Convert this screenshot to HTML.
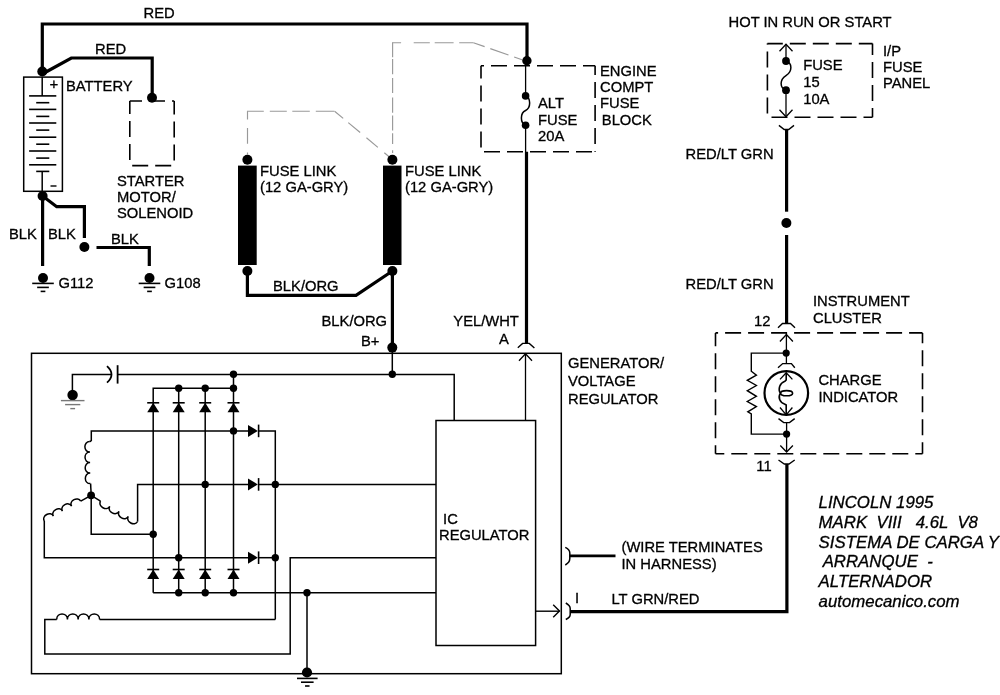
<!DOCTYPE html>
<html><head><meta charset="utf-8"><style>
html,body{margin:0;padding:0;background:#fff;}
svg{display:block;will-change:transform;}
text{font-family:"Liberation Sans",sans-serif;fill:#000;stroke:#000;stroke-width:0.3px;white-space:pre;}
</style></head><body>
<svg width="1000" height="695" viewBox="0 0 1000 695">
<rect width="1000" height="695" fill="#fff"/>
<path d="M42.3,71 V24 H527 V61" fill="none" stroke="#000" stroke-width="3.2" />
<path d="M42.3,74 L71.3,58 H152.2 V97.7" fill="none" stroke="#000" stroke-width="3.2" />
<circle cx="42.3" cy="71.5" r="5" fill="#000"/>
<circle cx="152" cy="97.7" r="5" fill="#000"/>
<line x1="129.8" y1="101" x2="174.2" y2="101" stroke="#000" stroke-width="1.6" stroke-dasharray="16,7" stroke-dashoffset="3.80"/>
<line x1="174.2" y1="101" x2="174.2" y2="165.6" stroke="#000" stroke-width="1.6" stroke-dasharray="16,7" stroke-dashoffset="2.50"/>
<line x1="129.8" y1="165.6" x2="174.2" y2="165.6" stroke="#000" stroke-width="1.6" stroke-dasharray="16,7" stroke-dashoffset="20.60"/>
<line x1="129.8" y1="101" x2="129.8" y2="165.6" stroke="#000" stroke-width="1.6" stroke-dasharray="16,7" stroke-dashoffset="3.10"/>
<rect x="23.7" y="77.1" width="38.7" height="114.20000000000002" fill="none" stroke="#000" stroke-width="1.5" />
<line x1="42.2" y1="77" x2="42.2" y2="95.9" stroke="#000" stroke-width="1.5" />
<line x1="29.1" y1="95.9" x2="56.3" y2="95.9" stroke="#000" stroke-width="1.6" />
<line x1="29.1" y1="109.4" x2="56.3" y2="109.4" stroke="#000" stroke-width="1.6" />
<line x1="29.1" y1="123" x2="56.3" y2="123" stroke="#000" stroke-width="1.6" />
<line x1="29.1" y1="137.2" x2="56.3" y2="137.2" stroke="#000" stroke-width="1.6" />
<line x1="29.1" y1="151" x2="56.3" y2="151" stroke="#000" stroke-width="1.6" />
<line x1="29.1" y1="164.8" x2="56.3" y2="164.8" stroke="#000" stroke-width="1.6" />
<line x1="36.2" y1="102.7" x2="49.3" y2="102.7" stroke="#000" stroke-width="1.6" />
<line x1="36.2" y1="116.4" x2="49.3" y2="116.4" stroke="#000" stroke-width="1.6" />
<line x1="36.2" y1="130.1" x2="49.3" y2="130.1" stroke="#000" stroke-width="1.6" />
<line x1="36.2" y1="144.2" x2="49.3" y2="144.2" stroke="#000" stroke-width="1.6" />
<line x1="36.2" y1="158.1" x2="49.3" y2="158.1" stroke="#000" stroke-width="1.6" />
<line x1="36.2" y1="171.4" x2="49.3" y2="171.4" stroke="#000" stroke-width="1.6" />
<line x1="42.2" y1="171.4" x2="42.2" y2="191.3" stroke="#000" stroke-width="1.5" />
<text x="49.4" y="89.3" font-size="15">+</text>
<line x1="50.5" y1="186" x2="56.5" y2="186" stroke="#000" stroke-width="1.4" />
<text x="66" y="90.7" font-size="14.75">BATTERY</text>
<circle cx="42.6" cy="196" r="5" fill="#000"/>
<path d="M42.6,196 V266" fill="none" stroke="#000" stroke-width="3.2" />
<path d="M42.6,196 L56.7,206.7 H84.4 V238" fill="none" stroke="#000" stroke-width="3.2" />
<circle cx="84.4" cy="247" r="5" fill="#000"/>
<path d="M96.5,247.5 H149.3 V266" fill="none" stroke="#000" stroke-width="3.2" />
<circle cx="43" cy="278" r="5" fill="#000"/>
<line x1="32.2" y1="283.4" x2="53.8" y2="283.4" stroke="#000" stroke-width="1.6" />
<line x1="37.15" y1="287.4" x2="48.85" y2="287.4" stroke="#000" stroke-width="1.6" />
<line x1="40.65" y1="291.4" x2="45.35" y2="291.4" stroke="#000" stroke-width="1.6" />
<circle cx="149.5" cy="278" r="5" fill="#000"/>
<line x1="138.7" y1="283.4" x2="160.3" y2="283.4" stroke="#000" stroke-width="1.6" />
<line x1="143.65" y1="287.4" x2="155.35" y2="287.4" stroke="#000" stroke-width="1.6" />
<line x1="147.15" y1="291.4" x2="151.85" y2="291.4" stroke="#000" stroke-width="1.6" />
<text x="9" y="238.7" font-size="14.75">BLK</text>
<text x="48" y="238.7" font-size="14.75">BLK</text>
<text x="111" y="244" font-size="14.75">BLK</text>
<text x="58.5" y="288" font-size="14.75">G112</text>
<text x="164.5" y="288" font-size="14.75">G108</text>
<text x="117" y="185.5" font-size="14.75">STARTER</text>
<text x="117" y="201.5" font-size="14.75">MOTOR/</text>
<text x="117" y="217.8" font-size="14.75">SOLENOID</text>
<text x="143.6" y="18" font-size="14.75">RED</text>
<text x="95" y="54" font-size="14.75">RED</text>
<line x1="247.5" y1="111.2" x2="247.5" y2="154.6" stroke="#999" stroke-width="1.15" stroke-dasharray="8.4,8.3,15.8,8.7,3,20"/>
<line x1="247" y1="111.2" x2="334.6" y2="111.2" stroke="#999" stroke-width="1.15" stroke-dasharray="16.8,6,17,5.5,17.5,6,18.6,10"/>
<line x1="334.6" y1="111.2" x2="390" y2="157.5" stroke="#999" stroke-width="1.15" stroke-dasharray="11.2,6.6,15.5,8.2,14.9,8.4,9,10"/>
<line x1="392.6" y1="42.7" x2="392.6" y2="153" stroke="#999" stroke-width="1.15" stroke-dasharray="14.6,1.8,15.2,3.6,15.1,4.5,15.2,2.7,15.1,2.7,10.7,6.3,3,20"/>
<line x1="392" y1="42.7" x2="473.4" y2="42.7" stroke="#999" stroke-width="1.15" stroke-dasharray="9.1,12.6,16.1,4.9,18.9,5.6,14.5,10"/>
<line x1="473.4" y1="42.7" x2="522" y2="59.8" stroke="#999" stroke-width="1.15" stroke-dasharray="11.9,6,19.3,6,9,20"/>
<rect x="238" y="165.6" width="18.69999999999999" height="99.4" fill="#000"/>
<rect x="383" y="165.6" width="18.5" height="99.4" fill="#000"/>
<circle cx="247.4" cy="159.8" r="5" fill="#000"/>
<circle cx="392.4" cy="159.8" r="5" fill="#000"/>
<circle cx="247.4" cy="271" r="5" fill="#000"/>
<circle cx="392.4" cy="271" r="5" fill="#000"/>
<path d="M247.4,271 V295.3 H356 L392.4,271" fill="none" stroke="#000" stroke-width="3.2" />
<path d="M392.4,271 V347.5" fill="none" stroke="#000" stroke-width="3.2" />
<text x="260" y="176.3" font-size="14.75">FUSE LINK</text>
<text x="260" y="192" font-size="14.75">(12 GA-GRY)</text>
<text x="405" y="176.3" font-size="14.75">FUSE LINK</text>
<text x="405" y="192" font-size="14.75">(12 GA-GRY)</text>
<text x="273" y="290.7" font-size="14.75">BLK/ORG</text>
<line x1="481" y1="65.75" x2="595.1" y2="65.75" stroke="#000" stroke-width="1.6" stroke-dasharray="16,7" stroke-dashoffset="13.00"/>
<line x1="595.1" y1="65.75" x2="595.1" y2="151.8" stroke="#000" stroke-width="1.6" stroke-dasharray="16,7" stroke-dashoffset="6.80"/>
<line x1="481" y1="151.8" x2="595.1" y2="151.8" stroke="#000" stroke-width="1.6" stroke-dasharray="16,7" stroke-dashoffset="20.00"/>
<line x1="481" y1="65.75" x2="481" y2="151.8" stroke="#000" stroke-width="1.6" stroke-dasharray="16,7" stroke-dashoffset="3.30"/>
<circle cx="526.9" cy="60.8" r="4.7" fill="#000"/>
<line x1="525.6" y1="61" x2="525.6" y2="96" stroke="#000" stroke-width="1.3" />
<circle cx="525.6" cy="95.9" r="3.8" fill="#000"/>
<circle cx="525.6" cy="125.2" r="3.8" fill="#000"/>
<path d="M525.6,95.9 C531,98 531,108 525.6,110.5 C520,113 520,123 525.6,125.2" fill="none" stroke="#000" stroke-width="1.5" />
<line x1="525.6" y1="125" x2="525.6" y2="152" stroke="#000" stroke-width="1.3" />
<path d="M526.5,151.7 V343" fill="none" stroke="#000" stroke-width="3.2" />
<text x="538" y="108" font-size="14.75">ALT</text>
<text x="538" y="124.5" font-size="14.75">FUSE</text>
<text x="538" y="141.3" font-size="14.75">20A</text>
<text x="600" y="75.8" font-size="14.75">ENGINE</text>
<text x="600" y="92" font-size="14.75">COMPT</text>
<text x="600" y="108.4" font-size="14.75">FUSE</text>
<text x="601.8" y="124.8" font-size="14.75">BLOCK</text>
<text x="728.5" y="26.6" font-size="14.75">HOT IN RUN OR START</text>
<line x1="767.4" y1="43.6" x2="872.5" y2="43.6" stroke="#000" stroke-width="1.6" stroke-dasharray="16,7" stroke-dashoffset="0.60"/>
<line x1="872.5" y1="43.6" x2="872.5" y2="117.3" stroke="#000" stroke-width="1.6" stroke-dasharray="16,7" stroke-dashoffset="4.50"/>
<line x1="767.4" y1="117.3" x2="872.5" y2="117.3" stroke="#000" stroke-width="1.6" stroke-dasharray="16,7" stroke-dashoffset="18.90"/>
<line x1="767.4" y1="43.6" x2="767.4" y2="117.3" stroke="#000" stroke-width="1.6" stroke-dasharray="16,7" stroke-dashoffset="15.10"/>
<line x1="786" y1="44" x2="786" y2="61" stroke="#000" stroke-width="1.3" />
<line x1="786" y1="90.2" x2="786" y2="117" stroke="#000" stroke-width="1.3" />
<path d="M779.5,51.3 L786,44.3 L792.5,51.3" fill="none" stroke="#000" stroke-width="1.3" />
<path d="M779.5,109.8 L786,116.8 L792.5,109.8" fill="none" stroke="#000" stroke-width="1.3" />
<circle cx="786" cy="61" r="3.9" fill="#000"/>
<circle cx="786" cy="90.2" r="3.9" fill="#000"/>
<path d="M786,61 C792.5,63 792.5,71.5 786,75.6 C779.5,79.7 779.5,88 786,90.2" fill="none" stroke="#000" stroke-width="1.5" />
<path d="M778.9,125.4 L784.2,129.5 H788.7 L794,125.4" fill="none" stroke="#000" stroke-width="1.4" />
<text x="803.2" y="70.3" font-size="14.75">FUSE</text>
<text x="803.2" y="87.2" font-size="14.75">15</text>
<text x="803.2" y="104" font-size="14.75">10A</text>
<text x="883" y="56" font-size="14.75">I/P</text>
<text x="883" y="72" font-size="14.75">FUSE</text>
<text x="883" y="88" font-size="14.75">PANEL</text>
<path d="M786.6,129.5 V211.7" fill="none" stroke="#000" stroke-width="3.2" />
<circle cx="786.4" cy="223" r="5" fill="#000"/>
<path d="M786.6,235 V324" fill="none" stroke="#000" stroke-width="3.2" />
<text x="685.6" y="159" font-size="14.75">RED/LT GRN</text>
<text x="685.6" y="289" font-size="14.75">RED/LT GRN</text>
<text x="813" y="305.8" font-size="14.75">INSTRUMENT</text>
<text x="813" y="322.5" font-size="14.75">CLUSTER</text>
<text x="754" y="325.6" font-size="14.75">12</text>
<path d="M778,327.8 L782.5,323.5 H790.5 L795,327.8" fill="none" stroke="#000" stroke-width="1.4" />
<line x1="715.5" y1="332.9" x2="922.5" y2="332.9" stroke="#000" stroke-width="1.6" stroke-dasharray="16,7" stroke-dashoffset="13.40"/>
<line x1="922.5" y1="332.9" x2="922.5" y2="453.7" stroke="#000" stroke-width="1.6" stroke-dasharray="16,7" stroke-dashoffset="5.70"/>
<line x1="715.5" y1="453.7" x2="922.5" y2="453.7" stroke="#000" stroke-width="1.6" stroke-dasharray="16,7" stroke-dashoffset="7.20"/>
<line x1="715.5" y1="332.9" x2="715.5" y2="453.7" stroke="#000" stroke-width="1.6" stroke-dasharray="16,7" stroke-dashoffset="2.70"/>
<line x1="786.4" y1="333" x2="786.4" y2="364" stroke="#000" stroke-width="1.3" />
<path d="M779.9,341.5 L786.4,334.5 L792.9,341.5" fill="none" stroke="#000" stroke-width="1.3" />
<circle cx="786.2" cy="353.1" r="3.6" fill="#000"/>
<path d="M786.2,353.1 H751.3 V371.2 L756.4,375.1 L747.3,380.3 L756.4,385.5 L747.3,390.7 L756.4,396.3 L747.3,401.5 L756.4,406.6 L747.8,411.8 L751.3,414 V434.1 H786.6" fill="none" stroke="#000" stroke-width="1.4" />
<path d="M778,367.8 L782.7,363.6 H791.4 L794.8,367.8" fill="none" stroke="#000" stroke-width="1.4" />
<circle cx="786.3" cy="393" r="21.8" fill="none" stroke="#000" stroke-width="2.2"/>
<path d="M780.0,379.40000000000003 L786.2,372.8 L792.4000000000001,379.40000000000003" fill="none" stroke="#000" stroke-width="1.3" />
<path d="M780.0,407.5 L786.2,414.8 L792.4000000000001,407.5" fill="none" stroke="#000" stroke-width="1.3" />
<path d="M786.2,372.8 V379.9 L784.9,381.2 C779.5,383 777.8,389.5 780.4,393.2 C777.8,397 779.5,402.5 784.9,404.2 L786.2,405 V414.8" fill="none" stroke="#000" stroke-width="1.6" />
<ellipse cx="786.6" cy="393.2" rx="6" ry="2.6" fill="none" stroke="#000" stroke-width="1.6"/>
<path d="M778.5,418.6 L783.7,422.6 H789.5 L794.7,418.6" fill="none" stroke="#000" stroke-width="1.4" />
<line x1="786.6" y1="422.6" x2="786.6" y2="452" stroke="#000" stroke-width="1.3" />
<circle cx="786.6" cy="434.1" r="3.6" fill="#000"/>
<path d="M780.3000000000001,445.5 L786.6,452 L792.9,445.5" fill="none" stroke="#000" stroke-width="1.3" />
<path d="M778.5,460 L784.3,464 H789 L794.7,460" fill="none" stroke="#000" stroke-width="1.4" />
<text x="756.3" y="470.9" font-size="14.75">11</text>
<path d="M786.9,464 V611.6 H570" fill="none" stroke="#000" stroke-width="3.2" />
<text x="818.4" y="385" font-size="14.75">CHARGE</text>
<text x="818.4" y="401.5" font-size="14.75">INDICATOR</text>
<text transform="translate(818.6,508.00) scale(1.037,1)" x="0" y="0" font-size="16.2" font-style="italic">LINCOLN 1995</text>
<text transform="translate(818.6,527.80) scale(1.037,1)" x="0" y="0" font-size="16.2" font-style="italic">MARK  VIII   4.6L  V8</text>
<text transform="translate(818.6,547.60) scale(1.037,1)" x="0" y="0" font-size="16.2" font-style="italic">SISTEMA DE CARGA Y</text>
<text transform="translate(818.6,567.40) scale(1.037,1)" x="0" y="0" font-size="16.2" font-style="italic"> ARRANQUE  -</text>
<text transform="translate(818.6,587.20) scale(1.037,1)" x="0" y="0" font-size="16.2" font-style="italic">ALTERNADOR</text>
<text transform="translate(818.6,607.00) scale(1.037,1)" x="0" y="0" font-size="16.2" font-style="italic">automecanico.com</text>
<rect x="31.5" y="353.3" width="529.8" height="320.40000000000003" fill="none" stroke="#000" stroke-width="1.5" />
<rect x="436" y="420.5" width="99.60000000000002" height="225.0" fill="none" stroke="#000" stroke-width="1.5" />
<text x="568" y="368.3" font-size="14.75">GENERATOR/</text>
<text x="568" y="385.8" font-size="14.75">VOLTAGE</text>
<text x="568" y="404" font-size="14.75">REGULATOR</text>
<text x="439" y="524" font-size="14.75"> IC</text>
<text x="439" y="539.6" font-size="14.75">REGULATOR</text>
<text x="321.5" y="326.4" font-size="14.75">BLK/ORG</text>
<text x="361" y="346.2" font-size="14.75">B+</text>
<text x="453.3" y="326.4" font-size="14.75">YEL/WHT</text>
<text x="499" y="344.2" font-size="14.75">A</text>
<circle cx="392.3" cy="347.6" r="5" fill="#000"/>
<line x1="392.3" y1="347.6" x2="392.3" y2="374.2" stroke="#000" stroke-width="1.5" />
<circle cx="392.3" cy="374.2" r="3.7" fill="#000"/>
<path d="M517.8,347.7 L522.6,343.4 H529.3 L534.4,348.1" fill="none" stroke="#000" stroke-width="1.4" />
<line x1="525.5" y1="353.6" x2="525.5" y2="420.5" stroke="#000" stroke-width="1.3" />
<path d="M519.0,360.8 L525.5,353.8 L532.0,360.8" fill="none" stroke="#000" stroke-width="1.3" />
<circle cx="72.6" cy="395" r="5.2" fill="#000"/>
<path d="M72.4,395 V374.4 H111.8" fill="none" stroke="#000" stroke-width="1.5" />
<path d="M107,366.2 Q116,374.4 107,382.6" fill="none" stroke="#000" stroke-width="1.8" />
<line x1="117.6" y1="365.2" x2="117.6" y2="383.6" stroke="#000" stroke-width="1.8" />
<path d="M117.6,374.4 H454.2 V420.5" fill="none" stroke="#000" stroke-width="1.5" />
<line x1="60.900000000000006" y1="400.6" x2="84.5" y2="400.6" stroke="#777" stroke-width="1.4" />
<line x1="65.10000000000001" y1="404.6" x2="80.3" y2="404.6" stroke="#777" stroke-width="1.4" />
<line x1="70.3" y1="408.6" x2="75.10000000000001" y2="408.6" stroke="#777" stroke-width="1.4" />
<circle cx="233.5" cy="374.2" r="3.7" fill="#000"/>
<path d="M233.5,374.2 V592.7" fill="none" stroke="#000" stroke-width="1.5" />
<path d="M153.2,592.7 V388.25 H233.5" fill="none" stroke="#000" stroke-width="1.5" />
<line x1="178.7" y1="388.25" x2="178.7" y2="592.7" stroke="#000" stroke-width="1.5" />
<line x1="205.2" y1="388.25" x2="205.2" y2="592.7" stroke="#000" stroke-width="1.5" />
<circle cx="178.7" cy="388.25" r="3.7" fill="#000"/>
<circle cx="205.2" cy="388.25" r="3.7" fill="#000"/>
<circle cx="233.5" cy="388.25" r="3.7" fill="#000"/>
<line x1="147.2" y1="402.8" x2="159.2" y2="402.8" stroke="#000" stroke-width="1.6" />
<path d="M153.2,402.8 L147.2,412.2 L159.2,412.2 Z" fill="#000"/>
<line x1="147.2" y1="569.5" x2="159.2" y2="569.5" stroke="#000" stroke-width="1.6" />
<path d="M153.2,569.5 L147.2,579 L159.2,579 Z" fill="#000"/>
<line x1="172.7" y1="402.8" x2="184.7" y2="402.8" stroke="#000" stroke-width="1.6" />
<path d="M178.7,402.8 L172.7,412.2 L184.7,412.2 Z" fill="#000"/>
<line x1="172.7" y1="569.5" x2="184.7" y2="569.5" stroke="#000" stroke-width="1.6" />
<path d="M178.7,569.5 L172.7,579 L184.7,579 Z" fill="#000"/>
<line x1="199.2" y1="402.8" x2="211.2" y2="402.8" stroke="#000" stroke-width="1.6" />
<path d="M205.2,402.8 L199.2,412.2 L211.2,412.2 Z" fill="#000"/>
<line x1="199.2" y1="569.5" x2="211.2" y2="569.5" stroke="#000" stroke-width="1.6" />
<path d="M205.2,569.5 L199.2,579 L211.2,579 Z" fill="#000"/>
<line x1="227.5" y1="402.8" x2="239.5" y2="402.8" stroke="#000" stroke-width="1.6" />
<path d="M233.5,402.8 L227.5,412.2 L239.5,412.2 Z" fill="#000"/>
<line x1="227.5" y1="569.5" x2="239.5" y2="569.5" stroke="#000" stroke-width="1.6" />
<path d="M233.5,569.5 L227.5,579 L239.5,579 Z" fill="#000"/>
<line x1="153.2" y1="592.7" x2="436" y2="592.7" stroke="#000" stroke-width="1.5" />
<circle cx="178.7" cy="592.7" r="3.7" fill="#000"/>
<circle cx="205.2" cy="592.7" r="3.7" fill="#000"/>
<circle cx="233.5" cy="592.7" r="3.7" fill="#000"/>
<circle cx="307" cy="592.7" r="3.7" fill="#000"/>
<path d="M91.3,441 V430.9 H248" fill="none" stroke="#000" stroke-width="1.5" />
<path d="M248,424.9 L257.8,430.9 L248,436.9 Z" fill="#000"/>
<line x1="258.6" y1="424.59999999999997" x2="258.6" y2="437.2" stroke="#000" stroke-width="1.6" />
<path d="M258.5,430.9 H275.3 V619.4" fill="none" stroke="#000" stroke-width="1.5" />
<circle cx="233.5" cy="430.9" r="3.7" fill="#000"/>
<path d="M137.6,521.5 V484.4 H248" fill="none" stroke="#000" stroke-width="1.5" />
<path d="M248,478.4 L257.8,484.4 L248,490.4 Z" fill="#000"/>
<line x1="258.6" y1="478.09999999999997" x2="258.6" y2="490.7" stroke="#000" stroke-width="1.6" />
<line x1="258.5" y1="484.4" x2="436" y2="484.4" stroke="#000" stroke-width="1.5" />
<circle cx="205.2" cy="484.4" r="3.7" fill="#000"/>
<circle cx="275.3" cy="484.4" r="3.7" fill="#000"/>
<path d="M44.3,521 V557.7 H248" fill="none" stroke="#000" stroke-width="1.5" />
<path d="M248,551.7 L257.8,557.7 L248,563.7 Z" fill="#000"/>
<line x1="258.6" y1="551.4000000000001" x2="258.6" y2="564.0" stroke="#000" stroke-width="1.6" />
<line x1="258.5" y1="557.7" x2="275.3" y2="557.7" stroke="#000" stroke-width="1.5" />
<circle cx="178.7" cy="557.7" r="3.7" fill="#000"/>
<circle cx="275.3" cy="557.7" r="3.7" fill="#000"/>
<path d="M91.2,495.2 V534.2 H153.2" fill="none" stroke="#000" stroke-width="1.5" />
<circle cx="153.2" cy="534.2" r="3.7" fill="#000"/>
<path d="M436,557.7 H290.2 V654 H44.8 V619.4 H56.7" fill="none" stroke="#000" stroke-width="1.5" />
<path d="M56.70,619.40 C56.70,612.35 67.42,612.35 67.42,619.40 C67.42,612.35 78.15,612.35 78.15,619.40 C78.15,612.35 88.88,612.35 88.88,619.40 C88.88,612.35 99.60,612.35 99.60,619.40" fill="none" stroke="#000" stroke-width="1.5" />
<line x1="99.6" y1="619.4" x2="275.3" y2="619.4" stroke="#000" stroke-width="1.5" />
<line x1="307" y1="592.7" x2="307" y2="672.5" stroke="#000" stroke-width="1.5" />
<circle cx="307" cy="672.5" r="5.1" fill="#000"/>
<line x1="297.0" y1="678.4" x2="317.6" y2="678.4" stroke="#000" stroke-width="1.6" />
<line x1="301.0" y1="682.1999999999999" x2="313.6" y2="682.1999999999999" stroke="#000" stroke-width="1.6" />
<line x1="305.05" y1="686.0" x2="309.55" y2="686.0" stroke="#000" stroke-width="1.6" />
<path d="M91.3,441 L89.8,441.5" fill="none" stroke="#000" stroke-width="1.5" />
<path d="M89.80,441.50 C83.15,441.59 83.30,452.12 89.95,452.02 C83.30,452.12 83.45,462.64 90.10,462.55 C83.45,462.64 83.60,473.17 90.25,473.08 C83.60,473.17 83.75,483.69 90.40,483.60" fill="none" stroke="#000" stroke-width="1.5" />
<path d="M90.6,483.6 L91.2,495.2" fill="none" stroke="#000" stroke-width="1.5" />
<circle cx="91.1" cy="495.3" r="3.9" fill="#000"/>
<path d="M91.1,495.3 L80.7,501.2" fill="none" stroke="#000" stroke-width="1.5" />
<path d="M80.70,501.20 C77.78,495.83 68.68,500.78 71.60,506.15 C68.68,500.78 59.58,505.73 62.50,511.10 C59.58,505.73 50.48,510.68 53.40,516.05 C50.48,510.68 41.38,515.63 44.30,521.00" fill="none" stroke="#000" stroke-width="1.5" />
<path d="M100.5,501.2 L91.1,495.3" fill="none" stroke="#000" stroke-width="1.5" />
<path d="M100.50,501.20 C97.56,506.57 106.84,511.64 109.78,506.27 C106.84,511.64 116.11,516.72 119.05,511.35 C116.11,516.72 125.39,521.79 128.32,516.42 C125.39,521.79 134.66,526.87 137.60,521.50" fill="none" stroke="#000" stroke-width="1.5" />
<line x1="535.6" y1="611.2" x2="559.5" y2="611.2" stroke="#000" stroke-width="1.4" />
<path d="M553.2,604.8 L559.5,611 L553.2,617.2" fill="none" stroke="#000" stroke-width="1.4" />
<path d="M565.3,547.3 Q569.8,549.5 569.8,553 V558.6 Q569.8,562.5 565.3,565" fill="none" stroke="#000" stroke-width="1.5" />
<path d="M565.8,603 Q570.2,605.5 570.2,608.5 V614.5 Q570.2,617.5 565.8,619.5" fill="none" stroke="#000" stroke-width="1.5" />
<path d="M569.8,555.8 H615.5" fill="none" stroke="#000" stroke-width="2.7" />
<text x="621.5" y="552.2" font-size="14.75">(WIRE TERMINATES</text>
<text x="621.5" y="568.8" font-size="14.75">IN HARNESS)</text>
<text x="575" y="603.2" font-size="14.75">I</text>
<text x="611.5" y="603.8" font-size="14.75">LT GRN/RED</text>
</svg></body></html>
